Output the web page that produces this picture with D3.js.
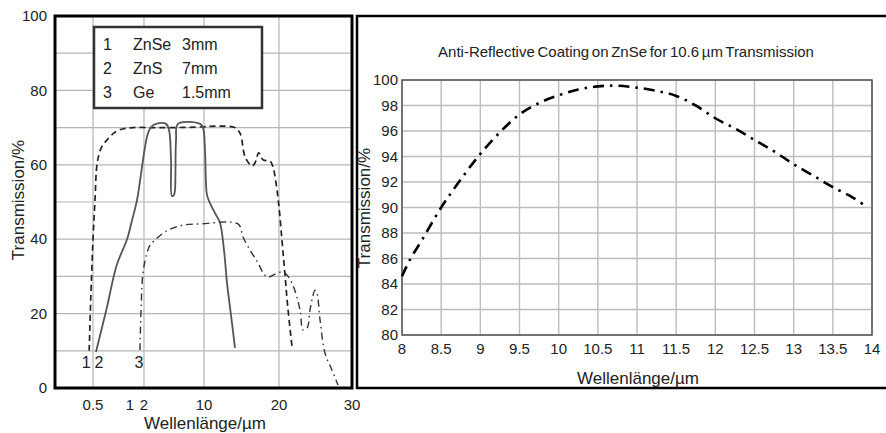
<!DOCTYPE html>
<html>
<head>
<meta charset="utf-8">
<script src="https://d3js.org/d3.v7.min.js"></script>
<style>
  body { margin: 0; background: #fff; }
  svg { display: block; font-family: "Liberation Sans", Arial, sans-serif; }
  .tick-label { font-size: 15px; fill: #222; }
  .axis-title { font-size: 17px; fill: #222; }
</style>
</head>
<body>
<svg class="chart"></svg>
<script>
'use strict';

// ---- left chart data (wavelength in um, transmission in %) ----
var leftXTicks = [0.5, 1, 2, 10, 20, 30];
var leftXTickLabels = ["0.5", "1", "2", "10", "20", "30"];
var leftXGrid = [0.5, 2, 10, 20];
var leftYTicks = [0, 20, 40, 60, 80, 100];
var leftYGrid = [10, 20, 30, 40, 50, 60, 70, 80, 90];

var legendNums = ["1", "2", "3"];
var legendMaterials = ["ZnSe", "ZnS", "Ge"];
var legendThickness = ["3mm", "7mm", "1.5mm"];

// 1 ZnSe 3mm (dashed)
var znseWl = [0.45, 0.47, 0.5, 0.527, 0.557, 0.61, 0.69, 0.78, 0.86, 1.21, 3, 6, 9.9, 11.5, 14.1, 14.8, 15.5, 16.4, 16.8, 17.3, 17.9, 18.8, 19.2, 19.9, 20.4, 20.8, 21.2, 21.8];
var znseT  = [10, 23.7, 39.8, 50.5, 60.5, 64.5, 66.7, 68.5, 69.4, 70, 70, 70, 70.2, 70.4, 70, 68.5, 62, 59.7, 60.5, 63.2, 61.3, 61, 59.4, 50.5, 39.8, 30.9, 21.8, 10.8];

// 2 ZnS 7mm (solid)
var znsWl = [0.54, 0.68, 0.82, 0.96, 1.14, 1.5, 2.53, 3.07, 3.6, 4.93, 5.33, 5.6, 5.73, 6.0, 6.13, 6.27, 6.53, 9.47, 9.87, 10.13, 10.4, 10.8, 11.47, 12.13, 12.67, 13.07, 13.6, 14.13];
var znsT  = [9.7, 21, 33, 40, 45, 50.5, 68.5, 70.4, 71, 71, 69.4, 61.3, 51.6, 51.9, 53.2, 66.7, 71, 71, 70, 64, 51.9, 49.7, 47, 44.4, 37, 28.2, 19.6, 10.8];

// 3 Ge 1.5mm (dash-dot)
var geWl = [1.71, 1.79, 1.93, 2.4, 2.8, 3.47, 4.4, 5.47, 7.2, 9.47, 14.53, 15.2, 16.13, 17.2, 18, 18.53, 19.47, 20.27, 20.82, 21.78, 22.88, 23.29, 23.84, 24.25, 24.52, 24.93, 25.2, 25.62, 26.3, 27.26, 28.08];
var geT  = [10.2, 21, 31, 36.3, 38.4, 39.8, 41.4, 42.7, 43.8, 44.1, 44.1, 40.6, 37.1, 33.6, 30.6, 29.8, 30.6, 31.2, 30.9, 28.2, 21, 15.6, 16.1, 21, 23.7, 26.3, 25.5, 18.3, 9.4, 4.8, 0.8];

// ---- right chart data ----
var rightTitle = "Anti-Reflective Coating on ZnSe for 10.6 \u00b5m Transmission";
var rightXTicks = [8, 8.5, 9, 9.5, 10, 10.5, 11, 11.5, 12, 12.5, 13, 13.5, 14];
var rightYTicks = [80, 82, 84, 86, 88, 90, 92, 94, 96, 98, 100];
var arWl = [8.0, 8.1, 8.25, 8.5, 8.75, 9.0, 9.25, 9.5, 9.75, 10.0, 10.25, 10.5, 10.75, 11.0, 11.25, 11.5, 11.75, 12.0, 12.25, 12.5, 12.75, 13.0, 13.25, 13.5, 13.75, 13.92];
var arT  = [84.6, 85.9, 87.4, 90.0, 92.2, 94.2, 95.9, 97.3, 98.2, 98.8, 99.25, 99.5, 99.55, 99.4, 99.15, 98.75, 98.0, 97.0, 96.2, 95.3, 94.4, 93.4, 92.5, 91.6, 90.8, 90.1];

var W = 886, H = 433;
var svg = d3.select(".chart").attr("width", W).attr("height", H);

function zipPts(xs, ys) { return xs.map(function (x, i) { return [x, ys[i]]; }); }

// ================= LEFT CHART =================
// the original axis is not linear, so use a piecewise scale
var lx = d3.scaleLinear()
    .domain([0, 0.5, 1, 2, 10, 20, 30])
    .range([55, 93, 130, 144, 204, 279, 352]);
var ly = d3.scaleLinear().domain([0, 100]).range([388, 16]);

var left = svg.append("g");

left.selectAll(".vgrid").data(leftXGrid).enter().append("line")
    .attr("x1", d => lx(d)).attr("x2", d => lx(d))
    .attr("y1", ly(0)).attr("y2", ly(100))
    .attr("stroke", "#b5b5b5").attr("stroke-width", 1.2);
left.selectAll(".hgrid").data(leftYGrid).enter().append("line")
    .attr("x1", lx(0)).attr("x2", lx(30))
    .attr("y1", d => ly(d)).attr("y2", d => ly(d))
    .attr("stroke", "#b5b5b5").attr("stroke-width", 1.2);

var lline = d3.line().x(d => lx(d[0])).y(d => ly(d[1])).curve(d3.curveCatmullRom.alpha(0.5));

left.append("path").datum(zipPts(znseWl, znseT))
    .attr("d", lline).attr("fill", "none")
    .attr("stroke", "#222").attr("stroke-width", 1.7)
    .attr("stroke-dasharray", "6,4");
left.append("path").datum(zipPts(znsWl, znsT))
    .attr("d", lline).attr("fill", "none")
    .attr("stroke", "#555").attr("stroke-width", 1.8);
left.append("path").datum(zipPts(geWl, geT))
    .attr("d", lline).attr("fill", "none")
    .attr("stroke", "#333").attr("stroke-width", 1.4)
    .attr("stroke-dasharray", "7,4,1.5,4");

// curve numbers at the start of each curve
var curveStarts = [znseWl[0], znsWl[0], geWl[0]];
left.selectAll(".cnum").data(legendNums).enter().append("text")
    .attr("class", "tick-label")
    .attr("x", (d, i) => lx(curveStarts[i]) + [-3, 3, -1][i])
    .attr("y", ly(7))
    .attr("dy", "0.35em")
    .attr("text-anchor", "middle")
    .style("font-size", "16px")
    .text(d => d);

// frame
left.append("rect")
    .attr("x", lx(0)).attr("y", ly(100))
    .attr("width", lx(30) - lx(0)).attr("height", ly(0) - ly(100))
    .attr("fill", "none").attr("stroke", "#000").attr("stroke-width", 3);

// legend box
var legend = left.append("g").attr("transform", "translate(94,27)");
legend.append("rect").attr("width", 168).attr("height", 81)
    .attr("fill", "#fff").attr("stroke", "#333").attr("stroke-width", 2.5);
var rows = legend.selectAll(".row").data(legendNums).enter().append("g")
    .attr("transform", (d, i) => "translate(0," + (17 + i * 24) + ")");
rows.append("text").attr("x", 9).attr("dy", "0.35em").text(d => d);
rows.append("text").attr("x", 39).attr("dy", "0.35em").text((d, i) => legendMaterials[i]);
rows.append("text").attr("x", 88).attr("dy", "0.35em").text((d, i) => legendThickness[i]);
rows.selectAll("text").style("font-size", "16px").attr("fill", "#222");

// tick labels
left.selectAll(".ylab").data(leftYTicks).enter().append("text")
    .attr("class", "tick-label")
    .attr("x", 47).attr("y", d => ly(d)).attr("dy", "0.35em")
    .attr("text-anchor", "end").text(d => d);
left.selectAll(".xlab").data(leftXTicks).enter().append("text")
    .attr("class", "tick-label")
    .attr("x", d => lx(d)).attr("y", 405).attr("dy", "0.35em")
    .attr("text-anchor", "middle").text((d, i) => leftXTickLabels[i]);

left.append("text").attr("class", "axis-title")
    .attr("transform", "translate(18,200) rotate(-90)")
    .attr("text-anchor", "middle").attr("dy", "0.35em")
    .text("Transmission/%");
left.append("text").attr("class", "axis-title")
    .attr("x", 205).attr("y", 423).attr("dy", "0.35em")
    .attr("text-anchor", "middle")
    .text("Wellenl\u00e4nge/\u00b5m");

// ================= RIGHT CHART =================
var right = svg.append("g");

right.append("rect")
    .attr("x", 357).attr("y", 16).attr("width", 540).attr("height", 372)
    .attr("fill", "none").attr("stroke", "#000").attr("stroke-width", 2.5);

var rx = d3.scaleLinear().domain([8, 14]).range([402, 872]);
var ry = d3.scaleLinear().domain([80, 100]).range([335, 80]);

right.selectAll(".vgrid").data(rightXTicks).enter().append("line")
    .attr("x1", d => rx(d)).attr("x2", d => rx(d))
    .attr("y1", ry(80)).attr("y2", ry(100))
    .attr("stroke", "#bdbdbd").attr("stroke-width", 1.4);
right.selectAll(".hgrid").data(rightYTicks).enter().append("line")
    .attr("x1", rx(8)).attr("x2", rx(14))
    .attr("y1", d => ry(d)).attr("y2", d => ry(d))
    .attr("stroke", "#bdbdbd").attr("stroke-width", 1.4);

right.append("rect")
    .attr("x", rx(8)).attr("y", ry(100))
    .attr("width", rx(14) - rx(8)).attr("height", ry(80) - ry(100))
    .attr("fill", "none").attr("stroke", "#555").attr("stroke-width", 1.5);

var rline = d3.line().x(d => rx(d[0])).y(d => ry(d[1])).curve(d3.curveCatmullRom.alpha(0.5));
right.append("path").datum(zipPts(arWl, arT))
    .attr("d", rline).attr("fill", "none")
    .attr("stroke", "#000").attr("stroke-width", 2.6)
    .attr("stroke-dasharray", "11,6,2.5,6");

right.selectAll(".ylab").data(rightYTicks).enter().append("text")
    .attr("class", "tick-label")
    .attr("x", 398).attr("y", d => ry(d)).attr("dy", "0.35em")
    .attr("text-anchor", "end").text(d => d);
right.selectAll(".xlab").data(rightXTicks).enter().append("text")
    .attr("class", "tick-label")
    .attr("x", d => rx(d)).attr("y", 349).attr("dy", "0.35em")
    .attr("text-anchor", "middle").text(d => d);

right.append("text")
    .attr("x", 626).attr("y", 52).attr("dy", "0.35em")
    .attr("text-anchor", "middle")
    .style("font-size", "15px").style("word-spacing", "-1.5px")
    .attr("fill", "#222")
    .text(rightTitle);

right.append("text").attr("class", "axis-title")
    .attr("transform", "translate(364,208) rotate(-90)")
    .attr("text-anchor", "middle").attr("dy", "0.35em")
    .text("Transmission/%");
right.append("text").attr("class", "axis-title")
    .attr("x", 638).attr("y", 378).attr("dy", "0.35em")
    .attr("text-anchor", "middle")
    .text("Wellenl\u00e4nge/\u00b5m");
</script>
</body>
</html>
